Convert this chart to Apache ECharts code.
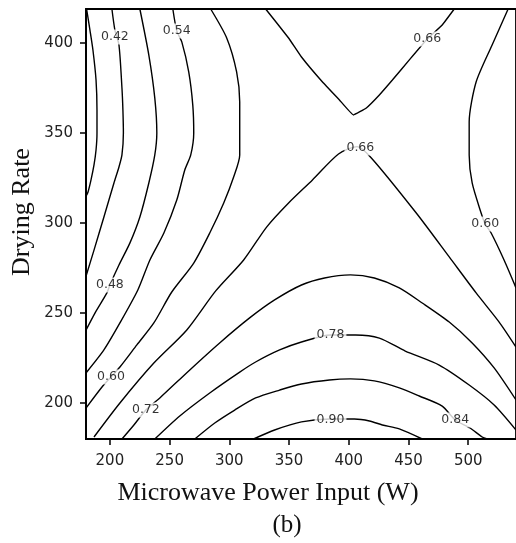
<!DOCTYPE html>
<html>
<head>
<meta charset="utf-8">
<script src="https://cdn.jsdelivr.net/npm/echarts@6/dist/echarts.min.js"></script>
<style>
html,body{margin:0;padding:0;background:#fff;}
#chart{width:516px;height:543px;}
</style>
</head>
<body>
<div id="chart"></div>
<script>
// Axis ticks
const xTicks = [200, 250, 300, 350, 400, 450, 500];
const yTicks = [200, 250, 300, 350, 400];

// Contour lines: [power (W), drying rate]
const c036 = [[180.5,419],[183.3,407.3],[185.8,396.2],[188.4,379.5],[189.2,362.9],[189.2,350.1],[188.4,340.6],[186.7,332.3],[184.2,324.0],[181.7,317.3],[180,315]];
const c042 = [[201.7,419],[204.2,407.3],[207.6,399.0],[210.1,375.1],[210.9,362.9],[211.3,350.1],[210.1,337.9],[207.6,331.2],[203.4,322.3],[195.0,303.4],[186.7,285.0],[180,270.5]];
const c048 = [[225.1,419],[232.6,393.4],[237.6,369.5],[239.3,350.1],[237.6,337.9],[232.6,322.3],[225.1,303.4],[216.8,289.0],[207.6,276.7],[200.0,265.6],[197.5,261.2],[187.5,250.0],[180,240.5]];
const c054 = [[252.7,419],[256.0,406.8],[260.2,400.7],[266.0,384.0],[269.4,365.6],[270.2,350.1],[267.7,337.9],[262.7,329.5],[256.0,312.8],[245.2,294.5],[233.5,279.5],[223.4,262.8],[208.4,244.5],[195.0,229.5],[180,216.7]];
const c060a = [[284.4,419],[297.8,402.9],[306.1,384.0],[308.7,367.3],[308.7,350.1],[308.7,337.9],[303.6,325.6],[295.3,311.2],[283.6,294.5],[270.2,277.8],[251.8,261.7],[236.8,244.5],[222.6,232.3],[208.4,220.0],[200.9,214.5],[193.4,208.9],[180,197.2]];
const c060b = [[533.4,419],[520.0,399.0],[506.6,378.4],[500.8,356.2],[500.8,337.9],[503.3,322.3],[510.8,305.6],[514.2,299.5],[519.2,294.5],[530.0,279.5],[540,264]];
const c066a = [[330.4,419],[349.6,402.9],[360.4,392.3],[378.0,378.4],[392.2,368.4],[403.9,360.1],[414.7,364.0],[425.6,371.2],[436.5,379.5],[450.7,390.7],[465.7,402.3],[478.2,410.1],[488.3,419]];
const c066b = [[186.7,181.1],[208.4,200.0],[236.8,222.2],[264.4,240.6],[288.6,262.3],[312.0,279.5],[331.2,297.8],[349.6,311.2],[369.6,324.0],[391.4,338.4],[407.0,342.5],[418.9,336.2],[456.5,305.6],[484.1,281.2],[506.6,261.2],[525.9,245.0],[540,231.1]];
const c072 = [[210.1,180],[220.1,187.8],[230.1,196.1],[241.8,202.8],[266.9,218.4],[291.9,233.4],[317.0,247.3],[337.9,257.3],[360.4,265.6],[379.7,269.5],[401.4,271.2],[421.4,269.5],[442.3,264.0],[461.5,255.6],[484.1,245.0],[503.3,233.4],[521.7,219.5],[540,201.7]];
const c078 = [[237.6,180],[258.5,192.8],[283.6,205.6],[308.7,217.2],[322.0,222.8],[342.1,229.5],[360.4,233.9],[384.7,237.8],[405.6,237.8],[425.6,236.1],[447.3,228.9],[475.7,221.1],[500.8,210.0],[521.7,198.9],[540,185.0]];
const c084 = [[271.1,180],[287.8,188.9],[304.5,196.1],[322.0,202.8],[342.1,207.2],[360.4,210.6],[383.8,212.8],[401.4,213.4],[421.4,212.3],[442.3,208.4],[459.0,203.9],[478.2,198.3],[489.1,190.6],[501.6,186.1],[511.7,181.1],[515.9,180]];
const c090 = [[320.3,180],[337.9,185.0],[360.4,189.5],[384.7,191.1],[404.7,191.1],[417.3,190.0],[428.1,187.8],[442.3,185.6],[461.5,180]];

// Contour labels
const labelText = ['0.42','0.54','0.66','0.66','0.60','0.48','0.60','0.72','0.78','0.90','0.84'];
const labelX    = [204.2, 256.0, 465.7, 409.7, 514.2, 200.0, 200.9, 230.1, 384.7, 384.7, 489.1];
const labelY    = [403.4, 406.8, 402.3, 341.7, 299.5, 265.6, 214.5, 196.1, 237.8, 190.6, 190.6];

const contourLines = [c036, c042, c048, c054, c060a, c060b, c066a, c066b, c072, c078, c084, c090];

const chart = echarts.init(document.getElementById('chart'), null, {renderer: 'canvas'});

const lineSeries = contourLines.map(function (d) {
  return {
    type: 'line',
    data: d,
    showSymbol: false,
    smooth: d === c066a ? 0.08 : 0.25,
    silent: true,
    z: 3,
    lineStyle: {color: '#000', width: 1.4}
  };
});

const labelSeries = {
  type: 'scatter',
  symbolSize: 0,
  z: 5,
  silent: true,
  data: labelText.map(function (t, i) { return {name: t, value: [labelX[i], labelY[i]]}; }),
  label: {
    show: true,
    position: 'inside',
    formatter: '{b}',
    fontFamily: 'DejaVu Sans',
    fontSize: 12.5,
    color: '#000',
    backgroundColor: '#fff',
    padding: [1, 2]
  }
};

const tickFont = {fontFamily: 'DejaVu Sans', fontSize: 15, color: '#222'};

chart.setOption({
  animation: false,
  backgroundColor: '#fff',
  grid: {left: 86, top: 9, width: 431, height: 430, show: true, borderColor: '#000', borderWidth: 1.8, backgroundColor: 'transparent'},
  xAxis: {
    type: 'value', min: 180, max: 540,
    axisLine: {show: true, lineStyle: {color: '#000', width: 1.8}},
    axisTick: {show: true, customValues: xTicks, length: 6, lineStyle: {color: '#000', width: 1.5}},
    axisLabel: Object.assign({customValues: xTicks, margin: 15}, tickFont),
    splitLine: {show: false}
  },
  yAxis: {
    type: 'value', min: 180, max: 419,
    axisLine: {show: true, lineStyle: {color: '#000', width: 1.8}},
    axisTick: {show: true, customValues: yTicks, length: 6, lineStyle: {color: '#000', width: 1.5}},
    axisLabel: Object.assign({customValues: yTicks, margin: 13}, tickFont),
    splitLine: {show: false}
  },
  graphic: [
    {type: 'text', x: 268, y: 493, style: {text: 'Microwave Power Input (W)', font: '26px "Liberation Serif"', fill: '#111', align: 'center', verticalAlign: 'middle'}},
    {type: 'text', x: 287, y: 525, style: {text: '(b)', font: '25px "Liberation Serif"', fill: '#111', align: 'center', verticalAlign: 'middle'}},
    {type: 'text', x: 22, y: 212, rotation: Math.PI / 2, style: {text: 'Drying Rate', font: '26px "Liberation Serif"', fill: '#111', align: 'center', verticalAlign: 'middle'}}
  ],
  series: lineSeries.concat([labelSeries])
});
</script>
</body>
</html>
